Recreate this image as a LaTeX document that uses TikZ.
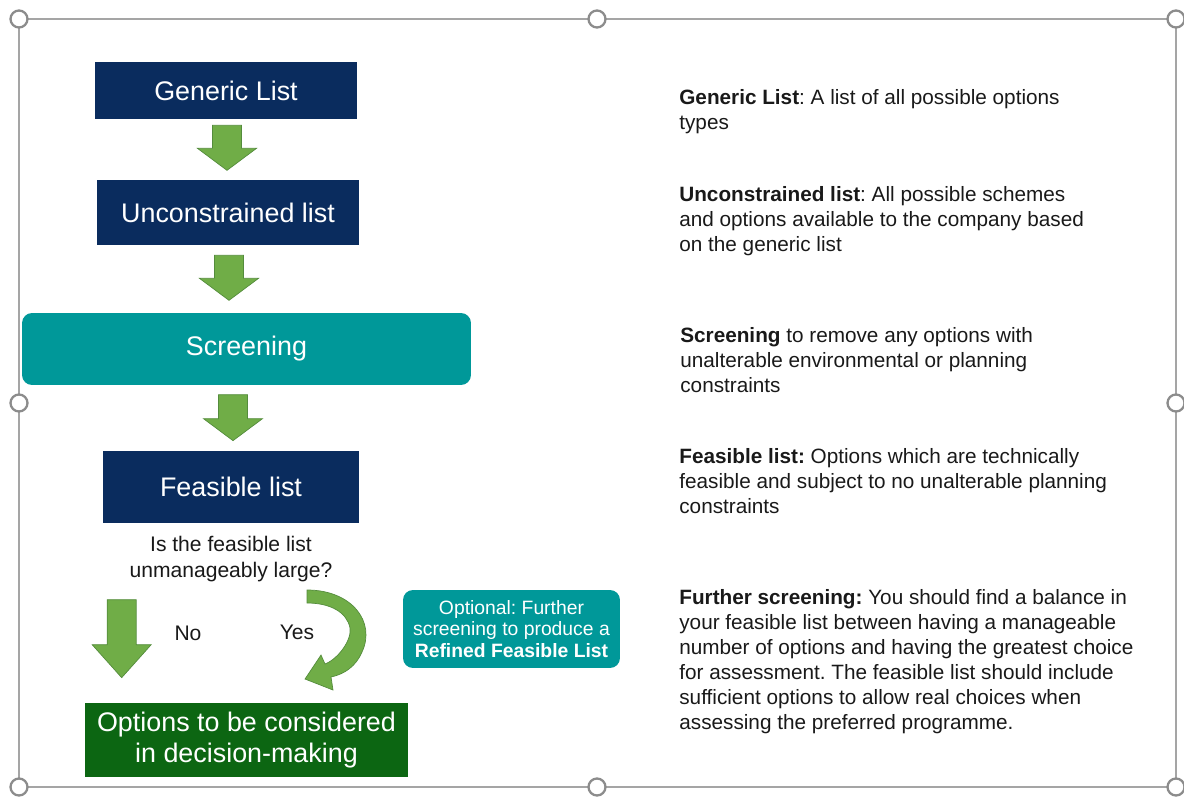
\documentclass[tikz,border=0pt]{standalone}
\usepackage{fontspec}
\setmainfont{Liberation Sans}
\frenchspacing
\definecolor{listnavy}{RGB}{10,44,94}
\definecolor{screenteal}{RGB}{0,152,153}
\definecolor{decgreen}{RGB}{12,102,18}
\definecolor{arrowgreen}{RGB}{112,173,71}
\definecolor{arrowedge}{RGB}{84,140,60}
\definecolor{framegray}{RGB}{165,165,165}
\definecolor{handlegray}{RGB}{140,140,140}
\definecolor{desctext}{RGB}{25,25,25}
\tikzset{
  listbox/.style={fill=listnavy, text=white, inner sep=0pt, font=\fontsize{15.3}{18}\selectfont},
  roundbox/.style={fill=screenteal, text=white, rounded corners=0.2cm, inner sep=0pt},
  desc/.style={anchor=north west, align=left, inner sep=0pt, text=desctext, font=\fontsize{11.8}{14.2}\selectfont},
  plain/.style={inner sep=0pt, text=desctext, font=\fontsize{12}{14.8}\selectfont},
  handle/.style={draw=handlegray, fill=white, line width=1.3pt},
  pics/blockdown/.style 2 args={code={
    \filldraw[fill=arrowgreen, draw=arrowedge, line width=0.4pt]
      (-14.5,0) -- (14.5,0) -- (14.5,#1-#2) -- (29.5,#1-#2) -- (0,#1)
      -- (-29.5,#1-#2) -- (-14.5,#1-#2) -- cycle;}}
}
\begin{document}
\begin{tikzpicture}[x=0.02cm, y=-0.02cm]
    \useasboundingbox (0,0) rectangle (1184,798);
    % Selection frame
    \draw[framegray, line width=0.8pt] (19,19) rectangle (1176,787);
    \draw[handle] (19,19) circle[radius=8.5]; \draw[handle] (597,19) circle[radius=8.5]; \draw[handle] (1176,19) circle[radius=8.5];
    \draw[handle] (19,403) circle[radius=8.5]; \draw[handle] (1176,403) circle[radius=8.5];
    \draw[handle] (19,787) circle[radius=8.5]; \draw[handle] (597,787) circle[radius=8.5]; \draw[handle] (1176,787) circle[radius=8.5];
    % List boxes
    \node[listbox, minimum width=5.24cm, minimum height=1.14cm] (gen) at (226,90.5) {Generic List};
    \node[listbox, minimum width=5.24cm, minimum height=1.3cm] (unc) at (228,212.5) {Unconstrained list};
    \node[roundbox, minimum width=8.98cm, minimum height=1.44cm, font=\fontsize{15.3}{18}\selectfont] (scr) at (246.5,349) {Screening};
    \node[listbox, minimum width=5.12cm, minimum height=1.44cm] (feas) at (231,487) {Feasible list};
    \node[listbox, fill=decgreen, minimum width=6.46cm, minimum height=1.48cm, align=center, font=\fontsize{15.3}{17.5}\selectfont] (decide) at (246.5,740) {Options to be considered\\in decision-making};
    % Down arrows
    \path (gen.south) ++(1,6) pic {blockdown={45}{22}};
    \path (unc.south) ++(1,10) pic {blockdown={45}{22}};
    \path (feas.north) ++(2,-56) pic {blockdown={46}{22}};
    \path (decide.north west) ++(37,-103) pic {blockdown={78}{33}};
    % Question and answers
    \node[plain, align=center] (ask) at (231,559) {Is the feasible list\\unmanageably large?};
    \node[plain] (no) at (188,633) {No}; \node[plain] (yes) at (297,632) {Yes};
    % Curved arrow for yes
    \filldraw[fill=arrowgreen, draw=arrowedge, line width=0.4pt]
      (307,590) .. controls (352,590) and (376,622) .. (362,652) .. controls (356,666) and (345,674) .. (331,677)
      -- (333,690) -- (305,679) -- (321,655) -- (325,664)
      .. controls (338,659) and (352,640) .. (350,628) .. controls (347,612) and (330,603) .. (307,603) -- cycle;
    \node[roundbox, minimum width=4.34cm, minimum height=1.56cm, align=center, font=\fontsize{11}{12.2}\selectfont] (refine) at (511.5,629) {Optional: Further\\screening to produce a\\\textbf{Refined Feasible List}};
    % Descriptions
    \node[desc] (dgen) at (679,89) {\textbf{Generic List}: A list of all possible options\\types};
    \node[desc] (dunc) at (679,186) {\textbf{Unconstrained list}: All possible schemes\\and options available to the company based\\on the generic list};
    \node[desc] (dscr) at (680,327) {\textbf{Screening} to remove any options with\\unalterable environmental or planning\\constraints};
    \node[desc] (dfeas) at (679,448) {\textbf{Feasible list:} Options which are technically\\feasible and subject to no unalterable planning\\constraints};
    \node[desc] (dfur) at (679,589) {\textbf{Further screening:} You should find a balance in\\your feasible list between having a manageable\\number of options and having the greatest choice\\for assessment. The feasible list should include\\sufficient options to allow real choices when\\assessing the preferred programme.};
\end{tikzpicture}
\end{document}
